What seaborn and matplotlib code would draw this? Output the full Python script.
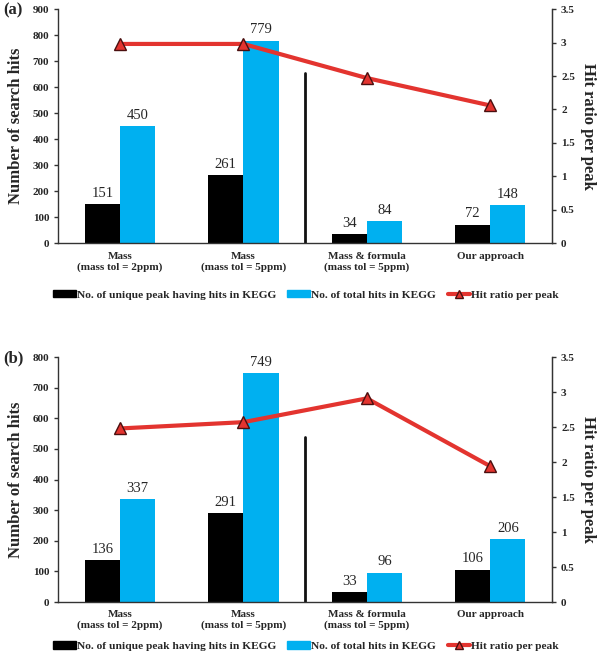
import numpy as np
import pandas as pd
import matplotlib
matplotlib.use('Agg')
import matplotlib.pyplot as plt
import seaborn as sns
from matplotlib.lines import Line2D
from matplotlib.patches import Patch

categories = ["Mass\n(mass tol = 2ppm)", "Mass\n(mass tol = 5ppm)",
              "Mass & formula\n(mass tol = 5ppm)", "Our approach"]
series_names = ["No. of unique peak having hits in KEGG", "No. of total hits in KEGG"]
line_name = "Hit ratio per peak"

unique_a = [151, 261, 34, 72]
total_a = [450, 779, 84, 148]
ratio_a = [2.98, 2.98, 2.47, 2.06]

unique_b = [136, 291, 33, 106]
total_b = [337, 749, 96, 206]
ratio_b = [2.48, 2.57, 2.91, 1.94]

bar_colors = ["#000000", "#00B0F0"]
line_color = "#E3342F"

sns.set_style("white")
plt.rcParams['font.family'] = ['Liberation Serif', 'DejaVu Serif']


def draw_panel(fig, rect, unique, total, ratio, ymax, ystep, sep_frac, tag):
    ax = fig.add_axes(rect)
    df = pd.DataFrame({
        'category': categories * 2,
        'series': [series_names[0]] * 4 + [series_names[1]] * 4,
        'value': unique + total,
    })
    sns.barplot(data=df, x='category', y='value', hue='series', order=categories,
                hue_order=series_names, palette=bar_colors, width=0.57,
                saturation=1, ax=ax, legend=False, edgecolor='none')
    for cont in ax.containers:
        ax.bar_label(cont, fmt='%d', padding=3, fontsize=10.5)
    ax.set_xlim(-0.5, 3.5)
    ax.set_ylim(0, ymax)
    ax.set_yticks(np.arange(0, ymax + 1, ystep))
    ax.set_xlabel('')
    ax.set_ylabel('Number of search hits', fontsize=12, fontweight='bold', labelpad=6)
    ax.set_xticks(range(4))
    ax.set_xticklabels(categories, fontsize=8, fontweight='bold')
    ax.set_xticks(np.arange(-0.5, 4, 1), minor=True)
    ax.tick_params(axis='x', which='major', length=0, pad=6)
    ax.tick_params(axis='x', which='minor', length=4, direction='out', width=1, color='#333333')
    ax.tick_params(axis='y', length=3, direction='out', width=1, color='#333333',
                   labelsize=8, left=True)
    for lab in ax.get_yticklabels():
        lab.set_fontweight('bold')
    ax.spines['top'].set_visible(False)
    for s in ['left', 'bottom', 'right']:
        ax.spines[s].set_color('#333333')
        ax.spines[s].set_linewidth(1)
    ax.axvline(1.5, ymin=0, ymax=sep_frac, color='#111111', lw=2)

    ax2 = ax.twinx()
    ax2.plot(range(len(ratio)), ratio, color=line_color, lw=3, marker='^',
             markersize=8, markerfacecolor=line_color, markeredgecolor='#4a0f0f',
             markeredgewidth=1, zorder=5)
    ax2.set_ylim(0, 3.5)
    ax2.set_yticks(np.arange(0, 3.6, 0.5))
    ax2.set_yticklabels(['0', '0.5', '1', '1.5', '2', '2.5', '3', '3.5'])
    ax2.tick_params(axis='y', length=3, direction='out', width=1, color='#333333',
                    labelsize=8, right=True)
    for lab in ax2.get_yticklabels():
        lab.set_fontweight('bold')
    ax2.set_ylabel(line_name, fontsize=12, fontweight='bold', rotation=270, labelpad=15)
    for s in ['top', 'left', 'bottom']:
        ax2.spines[s].set_visible(False)
    ax2.spines['right'].set_color('#333333')

    fig.text(0.005, rect[1] + rect[3] - 0.002, tag, fontsize=12, fontweight='bold',
             va='center', ha='left')
    return ax


fig = plt.figure(figsize=(6, 6.54), dpi=100)
draw_panel(fig, [0.097, 0.628, 0.823, 0.358], unique_a, total_a, ratio_a,
           900, 100, 0.727, '(a)')
draw_panel(fig, [0.097, 0.0795, 0.823, 0.3745], unique_b, total_b, ratio_b,
           800, 100, 0.675, '(b)')

handles = [Patch(color=bar_colors[0]), Patch(color=bar_colors[1]),
           Line2D([], [], color=line_color, lw=3, marker='^', markersize=6,
                  markerfacecolor=line_color, markeredgecolor='#4a0f0f')]
labels = series_names + [line_name]
for y in [0.549, 0.012]:
    fig.legend(handles, labels, loc='center', bbox_to_anchor=(0.51, y), ncol=3,
               frameon=False, handlelength=2.0, handleheight=0.6, handletextpad=0.1,
               columnspacing=1.0, prop={'weight': 'bold', 'size': 8.2})

fig.savefig('out.png', dpi=100)
